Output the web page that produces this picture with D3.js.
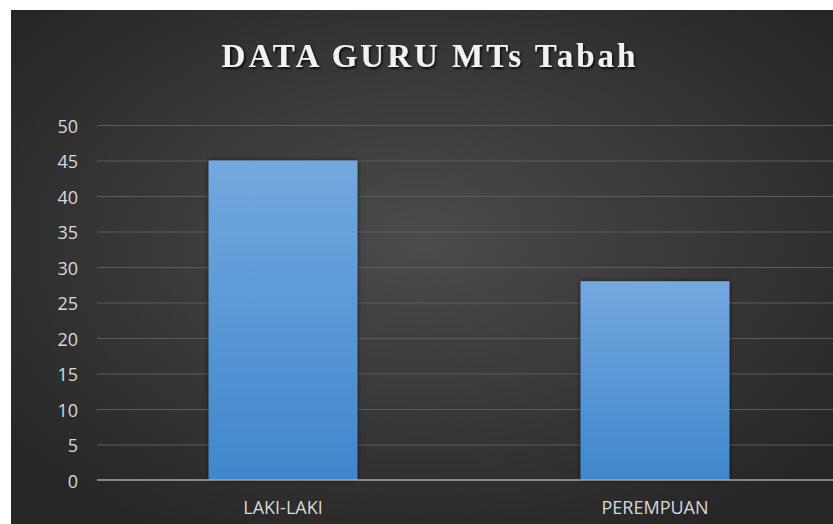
<!DOCTYPE html>
<html><head><meta charset="utf-8">
<script src="https://cdn.jsdelivr.net/npm/d3@7"></script>
<style>html,body{margin:0;padding:0;background:#fff;}svg{display:block;}</style>
</head><body>
<script>
const categories = ["LAKI-LAKI", "PEREMPUAN"];
const values = [45, 28];
const yTicks = [0, 5, 10, 15, 20, 25, 30, 35, 40, 45, 50];
const title = "DATA GURU MTs Tabah";

const W = 833, H = 524;
const svg = d3.select("body").append("svg").attr("width", W).attr("height", H);
const defs = svg.append("defs");

const bg = defs.append("radialGradient").attr("id", "bg").attr("cx", "50%").attr("cy", "45%").attr("r", "65%");
bg.append("stop").attr("offset", "0%").attr("stop-color", "#4b4b4b");
bg.append("stop").attr("offset", "100%").attr("stop-color", "#262626");

const bar = defs.append("linearGradient").attr("id", "bar").attr("x1", 0).attr("y1", 0).attr("x2", 0).attr("y2", 1);
bar.append("stop").attr("offset", "0%").attr("stop-color", "#74a8df");
bar.append("stop").attr("offset", "100%").attr("stop-color", "#3f87cd");

const shadow = defs.append("filter").attr("id", "sh").attr("x", "-20%").attr("y", "-20%").attr("width", "140%").attr("height", "140%");
shadow.append("feDropShadow").attr("dx", 0).attr("dy", 0).attr("stdDeviation", 2.5).attr("flood-color", "#000").attr("flood-opacity", 0.6);

const tshadow = defs.append("filter").attr("id", "tsh").attr("x", "-10%").attr("y", "-30%").attr("width", "120%").attr("height", "160%");
tshadow.append("feDropShadow").attr("dx", 1.5).attr("dy", 2).attr("stdDeviation", 1.2).attr("flood-color", "#000").attr("flood-opacity", 0.8);

svg.append("rect").attr("x", 11).attr("y", 10).attr("width", W - 11).attr("height", H - 10).attr("fill", "url(#bg)");

const x = d3.scaleBand().domain(categories).range([97, 841]).paddingInner(0.6).paddingOuter(0.3);
const y = d3.scaleLinear().domain([0, 50]).range([480, 125]);

const labelFont = "'Open Sans', 'Liberation Sans', sans-serif";

// gridlines
const grid = svg.append("g").attr("transform", "translate(97,0)")
  .call(d3.axisLeft(y).tickValues(yTicks.filter(d => d > 0)).tickSize(-(W - 97)).tickFormat(""));
grid.select(".domain").remove();
grid.selectAll("line").attr("stroke", "#5c5c5c").attr("stroke-width", 1.2);

// y labels
const ya = svg.append("g").attr("transform", "translate(97,0)")
  .call(d3.axisLeft(y).tickValues(yTicks).tickSize(0).tickPadding(19));
ya.select(".domain").remove();
ya.selectAll("text").attr("fill", "#d9d9d9").attr("dy", "0.4em").style("font-family", labelFont).style("font-size", "18px");

// bars
svg.append("g").selectAll("rect").data(values).join("rect")
  .attr("x", (d, i) => x(categories[i]))
  .attr("y", d => y(d))
  .attr("width", x.bandwidth())
  .attr("height", d => y(0) - y(d))
  .attr("fill", "url(#bar)")
  .attr("filter", "url(#sh)");

// x axis
const xa = svg.append("g").attr("transform", "translate(0,480)")
  .call(d3.axisBottom(x).tickSize(0).tickPadding(21));
xa.select(".domain").attr("stroke", "#a6a6a6").attr("stroke-width", 1.6).attr("d", `M97,0H${W}`);
xa.selectAll("text").attr("fill", "#d9d9d9").style("font-family", labelFont).style("font-size", "18px");

// title
svg.append("text").attr("x", 430).attr("y", 67).attr("text-anchor", "middle")
  .attr("fill", "#f2f2f2").attr("filter", "url(#tsh)")
  .style("font-family", "'Liberation Serif', 'DejaVu Serif', serif").style("font-weight", "bold")
  .style("font-size", "33px").style("letter-spacing", "3px")
  .text(title);
</script>
</body></html>
